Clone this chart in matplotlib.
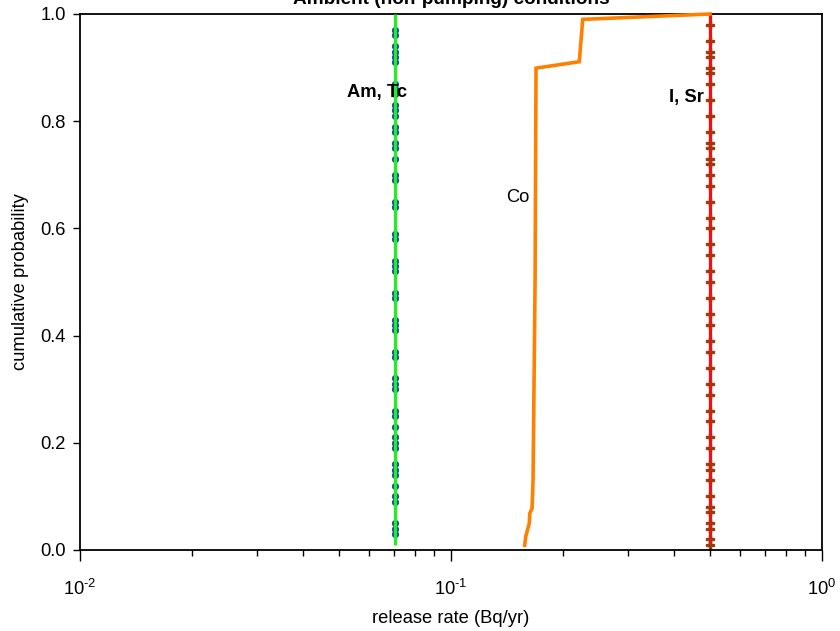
import matplotlib
matplotlib.use("Agg")
import matplotlib.pyplot as plt
from matplotlib.ticker import FixedLocator, LogLocator, NullFormatter

plt.rcParams['font.family'] = ['Liberation Sans', 'DejaVu Sans']
plt.rcParams['mathtext.fontset'] = 'custom'
plt.rcParams['mathtext.rm'] = 'Liberation Sans'
plt.rcParams['mathtext.it'] = 'Liberation Sans'

# ---- data ----
amtc_rate = [0.0705, 0.0705]
amtc_prob = [0.01, 1.00]
amtc_marker_prob = [0.97, 0.96, 0.94, 0.93, 0.92, 0.91, 0.87, 0.86, 0.85, 0.83,
                    0.82, 0.81, 0.79, 0.78, 0.76, 0.75, 0.73, 0.70, 0.69, 0.65,
                    0.64, 0.59, 0.58, 0.54, 0.53, 0.52, 0.48, 0.47, 0.43, 0.42,
                    0.41, 0.37, 0.36, 0.32, 0.31, 0.30, 0.26, 0.25, 0.23, 0.21,
                    0.20, 0.19, 0.16, 0.15, 0.14, 0.12, 0.10, 0.09, 0.05, 0.04, 0.03]

isr_rate = [0.50, 0.50]
isr_prob = [0.01, 1.00]
isr_marker_prob = [0.98, 0.95, 0.93, 0.92, 0.90, 0.89, 0.87, 0.84, 0.81, 0.78,
                   0.76, 0.75, 0.73, 0.72, 0.70, 0.68, 0.65, 0.62, 0.60, 0.57,
                   0.55, 0.52, 0.50, 0.47, 0.44, 0.42, 0.39, 0.37, 0.34, 0.31,
                   0.29, 0.26, 0.24, 0.21, 0.19, 0.16, 0.15, 0.13, 0.10, 0.08,
                   0.07, 0.05, 0.04, 0.02, 0.01]

co_rate = [0.158, 0.159, 0.1626, 0.163, 0.1654, 0.1664, 0.1685, 0.1695, 0.2217, 0.2265, 0.499]
co_prob = [0.009, 0.025, 0.05, 0.068, 0.078, 0.13, 0.50, 0.899, 0.911, 0.99, 1.00]

x_ticks = [0.01, 0.1, 1.0]
x_ticklabels = ['$\\mathregular{10^{\u20102}}$', '$\\mathregular{10^{\u20101}}$', '$\\mathregular{10^{0}}$']
y_ticks = [0.0, 0.2, 0.4, 0.6, 0.8, 1.0]
y_ticklabels = ['0.0', '0.2', '0.4', '0.6', '0.8', '1.0']

labels = [("Am, Tc", 0.0632, 0.853, 'bold'),
          ("I, Sr", 0.43, 0.845, 'bold'),
          ("Co", 0.1516, 0.657, 'normal')]

FS = 13.2

# ---- figure ----
fig = plt.figure(figsize=(8.4, 6.31), dpi=100)
ax = fig.add_axes([80/840, 1 - 550/631, (822-80)/840, (550-14)/631])

ax.plot([amtc_rate[0]]*len(amtc_marker_prob), amtc_marker_prob, linestyle='none',
        marker='o', markersize=4.2, markerfacecolor='#1a4f9c', markeredgecolor='#1a4f9c',
        zorder=2, clip_on=False)
ax.plot(amtc_rate, amtc_prob, color='#22ee22', linewidth=2.3, zorder=3,
        solid_capstyle='butt', clip_on=False)

ax.plot([isr_rate[0]]*len(isr_marker_prob), isr_marker_prob, linestyle='none',
        marker='P', markersize=6, markerfacecolor='#8b4513', markeredgecolor='#8b4513',
        zorder=2, clip_on=False)
ax.plot(isr_rate, isr_prob, color='#ff0a0a', linewidth=2.3, zorder=3,
        solid_capstyle='butt', clip_on=False)
ax.plot([isr_rate[0]]*len(isr_marker_prob), isr_marker_prob, linestyle='none',
        marker='P', markersize=5, markerfacecolor='#8b4513', markeredgecolor='none',
        alpha=0.55, zorder=4, clip_on=False)

ax.plot(co_rate, co_prob, color='#ff8000', linewidth=2.6, zorder=3,
        solid_joinstyle='miter', clip_on=False)

for txt, x, y, w in labels:
    ax.text(x, y, txt, fontsize=FS, fontweight=w, ha='center', va='center', zorder=5)

ax.set_xscale('log')
ax.set_xlim(0.01, 1.0)
ax.set_ylim(0.0, 1.0)

ax.xaxis.set_major_locator(FixedLocator(x_ticks))
ax.set_xticklabels(x_ticklabels)
ax.xaxis.set_minor_locator(LogLocator(base=10, subs=range(2, 10)))
ax.xaxis.set_minor_formatter(NullFormatter())
ax.set_yticks(y_ticks)
ax.set_yticklabels(y_ticklabels)

ax.tick_params(axis='x', which='major', direction='out', length=8, width=1, pad=13, labelsize=FS)
ax.tick_params(axis='x', which='minor', direction='out', length=4, width=1)
ax.tick_params(axis='y', which='major', direction='out', length=5, width=1, pad=5, labelsize=FS)

for s in ax.spines.values():
    s.set_linewidth(1.3)
    s.set_color('black')

ax.set_xlabel('release rate (Bq/yr)', fontsize=FS, labelpad=8)
ax.set_ylabel('cumulative probability', fontsize=FS, labelpad=8)

fig.text(451/840, 1 - 4/631, 'Ambient (non-pumping) conditions', ha='center',
         va='baseline', fontsize=FS + 0.5, fontweight='bold')

fig.savefig('out.png', dpi=100)
